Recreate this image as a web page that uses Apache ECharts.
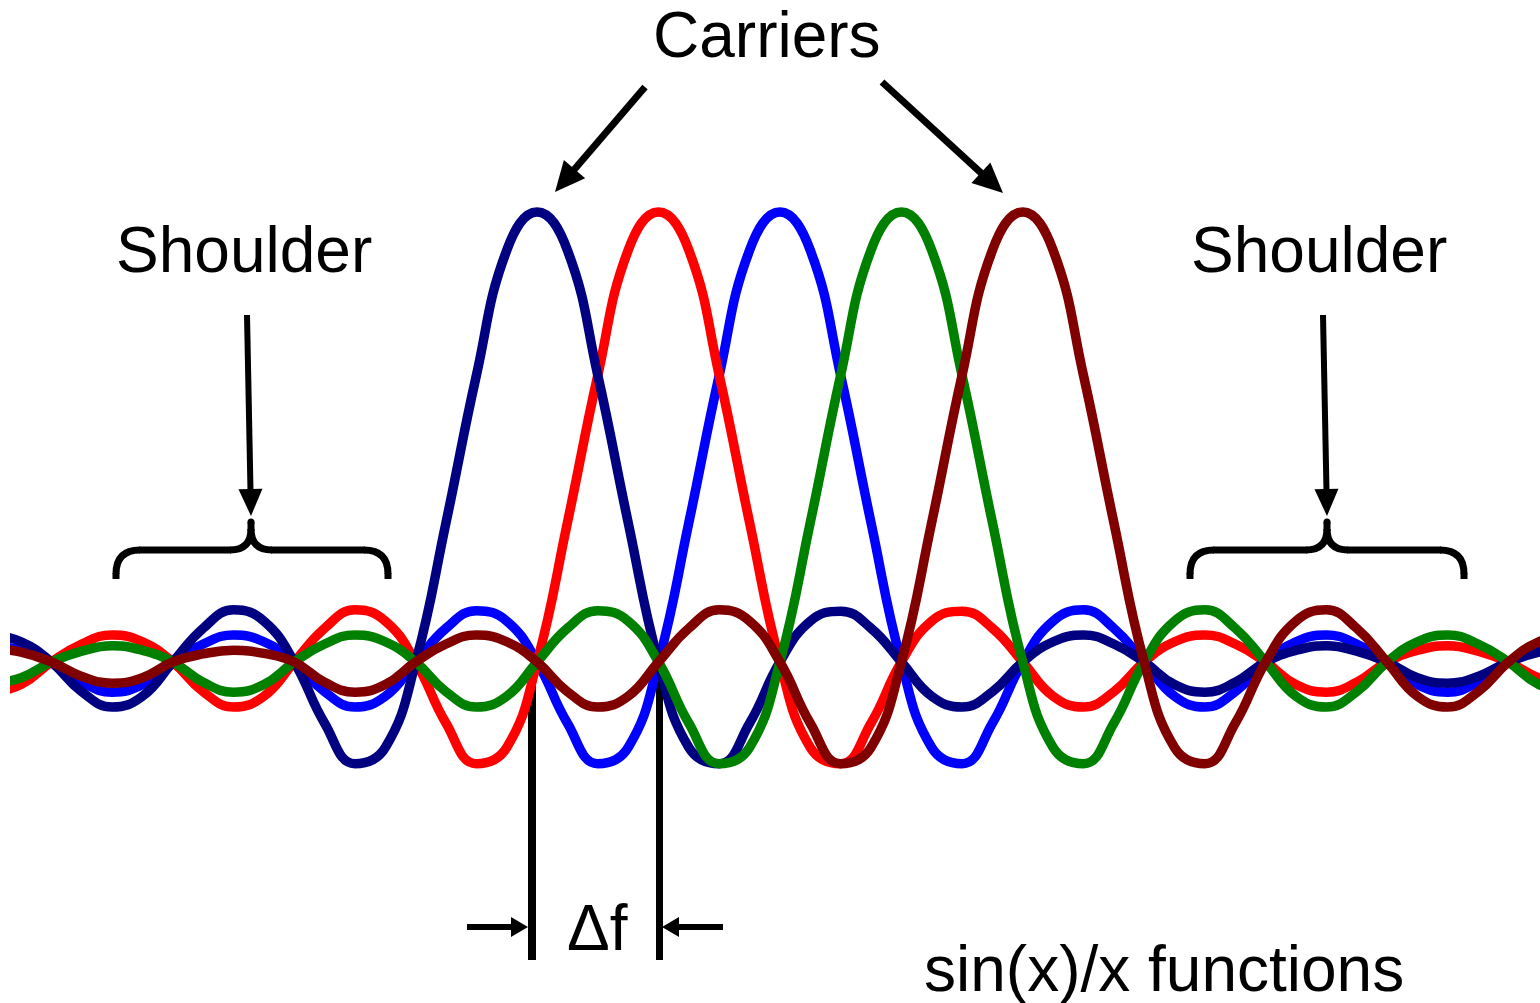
<!DOCTYPE html>
<html>
<head>
<meta charset="utf-8">
<title>sin(x)/x carriers</title>
<script src="https://cdn.jsdelivr.net/npm/echarts@6/dist/echarts.min.js"></script>
<style>
html, body { margin: 0; padding: 0; background: #fff; }
#chart { width: 1540px; height: 1003px; }
</style>
</head>
<body>
<div id="chart"></div>
<script>
// sample positions in carrier spacings (carrier peaks sit at 0, 1, 2, 3, 4), quarter steps
const xs = [
	-4.5, -4.25, -4, -3.75, -3.5, -3.25, -3, -2.75, -2.5, -2.25, -2, -1.75, -1.5, -1.25, -1, -0.75, -0.5, -0.25,
	0, 0.25, 0.5, 0.75, 1, 1.25, 1.5, 1.75, 2, 2.25, 2.5, 2.75, 3, 3.25, 3.5, 3.75, 4, 4.25, 4.5, 4.75,
	5, 5.25, 5.5, 5.75, 6, 6.25, 6.5, 6.75, 7, 7.25, 7.5, 7.75, 8, 8.25, 8.5
]

// amplitudes (peak = 1), one value per entry of xs
const navy = [
	0.060, 0.045, 0, -0.066, -0.100, -0.076, 0, 0.075, 0.116, 0.091, 0, -0.136, -0.226, -0.190, 0, 0.310, 0.637, 0.915,
	1, 0.915, 0.637, 0.310, 0, -0.190, -0.226, -0.136, 0, 0.091, 0.113, 0.075, 0, -0.076, -0.100, -0.066, 0, 0.045, 0.060, 0.040,
	0, -0.050, -0.067, -0.045, 0, 0.026, 0.036, 0.024, 0, -0.035, -0.047, -0.032, 0, 0.022, 0.030
]
const red = [
	-0.067, -0.050, 0, 0.040, 0.060, 0.045, 0, -0.066, -0.100, -0.076, 0, 0.075, 0.116, 0.091, 0, -0.136, -0.226, -0.190,
	0, 0.310, 0.637, 0.915, 1, 0.915, 0.637, 0.310, 0, -0.190, -0.226, -0.136, 0, 0.091, 0.113, 0.075, 0, -0.076, -0.100, -0.066,
	0, 0.045, 0.060, 0.040, 0, -0.050, -0.067, -0.045, 0, 0.026, 0.036, 0.024, 0, -0.035, -0.047
]
const blue = [
	0.036, 0.026, 0, -0.045, -0.067, -0.050, 0, 0.040, 0.060, 0.045, 0, -0.066, -0.100, -0.076, 0, 0.075, 0.114, 0.091,
	0, -0.136, -0.226, -0.190, 0, 0.310, 0.637, 0.915, 1, 0.915, 0.637, 0.310, 0, -0.190, -0.226, -0.136, 0, 0.091, 0.116, 0.075,
	0, -0.076, -0.100, -0.066, 0, 0.045, 0.060, 0.040, 0, -0.050, -0.067, -0.045, 0, 0.026, 0.036
]
const green = [
	-0.047, -0.035, 0, 0.024, 0.036, 0.026, 0, -0.045, -0.067, -0.050, 0, 0.040, 0.060, 0.045, 0, -0.066, -0.100, -0.076,
	0, 0.075, 0.114, 0.091, 0, -0.136, -0.226, -0.190, 0, 0.310, 0.637, 0.915, 1, 0.915, 0.637, 0.310, 0, -0.190, -0.226, -0.136,
	0, 0.091, 0.116, 0.075, 0, -0.076, -0.100, -0.066, 0, 0.045, 0.060, 0.040, 0, -0.050, -0.067
]
const maroon = [
	0.030, 0.022, 0, -0.032, -0.047, -0.035, 0, 0.018, 0.026, 0.019, 0, -0.045, -0.067, -0.050, 0, 0.040, 0.060, 0.045,
	0, -0.066, -0.100, -0.076, 0, 0.075, 0.116, 0.091, 0, -0.136, -0.226, -0.190, 0, 0.310, 0.637, 0.915, 1, 0.915, 0.637, 0.310,
	0, -0.190, -0.226, -0.136, 0, 0.091, 0.116, 0.075, 0, -0.076, -0.100, -0.066, 0, 0.045, 0.060
]

// drawing order, bottom to top
const curves = [
	{ name: 'carrier 3', color: '#0000ff', values: blue },
	{ name: 'carrier 2', color: '#ff0000', values: red },
	{ name: 'carrier 1', color: '#000080', values: navy },
	{ name: 'carrier 4', color: '#008000', values: green },
	{ name: 'carrier 5', color: '#800000', values: maroon }
]

const FONT = 'normal 64px "Liberation Sans", Arial, sans-serif'
const INK = { stroke: '#000', fill: null, lineWidth: 7, lineCap: 'butt' }

// straight arrow: shaft + filled head, tip at (x2, y2)
function arrow(x1, y1, x2, y2, len, half, width) {
	const d = Math.hypot(x2 - x1, y2 - y1)
	const ux = (x2 - x1) / d
	const uy = (y2 - y1) / d
	const bx = x2 - ux * len
	const by = y2 - uy * len
	return [
		{ type: 'line', shape: { x1: x1, y1: y1, x2: bx + ux * 2, y2: by + uy * 2 }, style: { stroke: '#000', lineWidth: width } },
		{ type: 'polygon', shape: { points: [[x2, y2], [bx - uy * half, by + ux * half], [bx + uy * half, by - ux * half]] }, style: { fill: '#000' } }
	]
}

// curly brace lying on its back, tip pointing up at cx
function brace(xl, xr, cx, yh, ybot, ytip) {
	const r = 24
	const q = 21
	const seg = (x1, y1, x2, y2) => ({ type: 'line', shape: { x1: x1, y1: y1, x2: x2, y2: y2 }, style: INK })
	const bend = (x1, y1, cx1, cy1, x2, y2) => ({
		type: 'bezierCurve',
		shape: { x1: x1, y1: y1, x2: x2, y2: y2, cpx1: cx1, cpy1: cy1 },
		style: INK
	})
	return [
		seg(xl, ybot, xl, yh + r - 1),
		bend(xl, yh + r, xl, yh, xl + r, yh),
		seg(xl + r - 1, yh, cx - q + 1, yh),
		bend(cx - q, yh, cx, yh, cx, yh - q),
		seg(cx, yh - q + 1, cx, ytip + 3),
		{ type: 'circle', shape: { cx: cx, cy: ytip + 3, r: 3.5 }, style: { fill: '#000' } },
		bend(cx, yh - q, cx, yh, cx + q, yh),
		seg(cx + q - 1, yh, xr - r + 1, yh),
		bend(xr - r, yh, xr, yh, xr, yh + r),
		seg(xr, yh + r - 1, xr, ybot)
	]
}

function label(text, x, y) {
	return { type: 'text', x: x, y: y, style: { text: text, font: FONT, fill: '#000', textAlign: 'left', textVerticalAlign: 'middle' } }
}

const initChart = () => {
	const chartDom = document.getElementById('chart')
	const myChart = echarts.init(chartDom, null, { renderer: 'canvas' })
	const options = {
		animation: false,
		backgroundColor: '#fff',
		grid: { left: 15, right: 0, top: 122, bottom: 71 },
		xAxis: { type: 'value', min: -4.3, max: 8.26, show: false },
		yAxis: { type: 'value', min: -0.6, max: 1.2, show: false },
		series: curves.map(c => ({
			name: c.name,
			type: 'line',
			data: xs.map((x, i) => [x, c.values[i]]),
			smooth: 0.45,
			symbol: 'none',
			lineStyle: { color: c.color, width: 9.5 },
			itemStyle: { color: c.color }
		})),
		graphic: [
			label('Carriers', 653, 39),
			label('Shoulder', 116, 254),
			label('Shoulder', 1191, 254),
			label('\u0394f', 567, 932),
			label('sin(x)/x functions', 924, 973),
			...arrow(645, 87, 555, 192, 30, 14, 7),
			...arrow(882, 82, 1003, 193, 30, 14, 7),
			...arrow(247, 315, 251, 516, 27, 12, 6),
			...arrow(1323, 315, 1327, 516, 27, 12, 6),
			...arrow(467, 927, 528, 927, 17, 10, 6),
			...arrow(723, 927, 662, 927, 17, 10, 6),
			{ type: 'line', shape: { x1: 532, y1: 670, x2: 532, y2: 960 }, style: { stroke: '#000', lineWidth: 8 } },
			{ type: 'line', shape: { x1: 659.5, y1: 670, x2: 659.5, y2: 960 }, style: { stroke: '#000', lineWidth: 7 } },
			...brace(116, 388, 251, 550, 579, 519),
			...brace(1190, 1464, 1327, 550, 579, 519)
		]
	}
	myChart.setOption(options)
	return myChart
}

initChart()
</script>
</body>
</html>
